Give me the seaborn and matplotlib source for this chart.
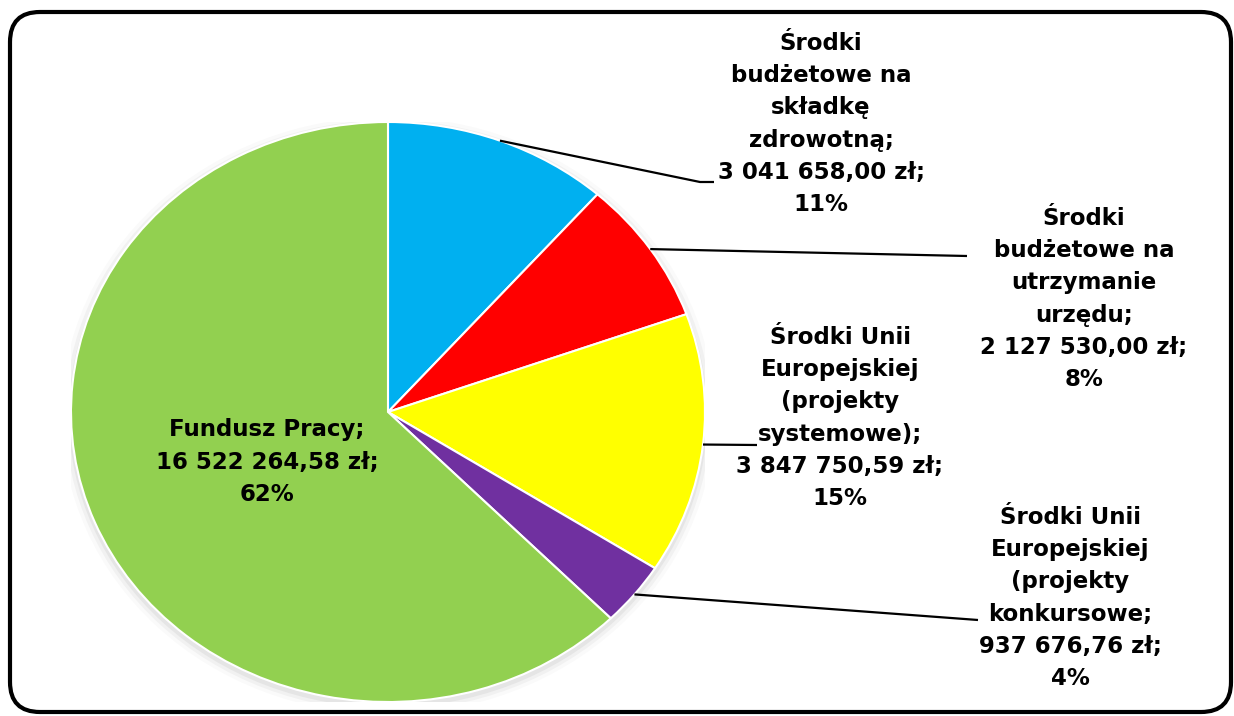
import numpy as np
import matplotlib
matplotlib.use("Agg")
import matplotlib.pyplot as plt
import seaborn as sns
from matplotlib.patches import FancyBboxPatch, Ellipse

# Data
names = ["Środki\nbudżetowe na\nskładkę\nzdrowotną",
         "Środki\nbudżetowe na\nutrzymanie\nurzędu",
         "Środki Unii\nEuropejskiej\n(projekty\nsystemowe)",
         "Środki Unii\nEuropejskiej\n(projekty\nkonkursowe",
         "Fundusz Pracy"]
values = [3041658.00, 2127530.00, 3847750.59, 937676.76, 16522264.58]
colors = ["#00B0F0", "#FF0000", "#FFFF00", "#7030A0", "#92D050"]

sns.set_theme(style="white")
plt.rcParams['font.family'] = ['DejaVu Sans']

W, H = 1234, 716
fig = plt.figure(figsize=(W / 100, H / 100), dpi=100)

# overlay axes in pixel coordinates for frame, labels and leader lines
ov = fig.add_axes([0, 0, 1, 1])
ov.set_xlim(0, W)
ov.set_ylim(H, 0)
ov.axis('off')
ov.patch.set_alpha(0)
ov.set_zorder(3)

# pie axes (slightly wider than tall, as in the original)
px0, px1, py0, py1 = 71, 705, 122, 702
pa = fig.add_axes([px0 / W, 1 - py1 / H, (px1 - px0) / W, (py1 - py0) / H])
pa.set_zorder(2)

# soft shadow
for k, a in [(1.03, 0.04), (1.018, 0.07), (1.007, 0.1)]:
    pa.add_patch(Ellipse((0.0, -0.012), 2 * k, 2 * k, color='gray', alpha=a, lw=0))

wedges, _ = pa.pie(values, colors=colors, startangle=90, counterclock=False,
                   radius=1.0, wedgeprops=dict(edgecolor='white', linewidth=1.5))
pa.set_aspect('auto')
pa.set_xlim(-1.0, 1.0)
pa.set_ylim(-1.0, 1.0)
pa.axis('off')

total = sum(values)

def fmt(v):
    return format(v, ',.2f').replace(',', ' ').replace('.', ',')

labels = [f"{n};\n{fmt(v)} zł;\n{round(v / total * 100)}%" for n, v in zip(names, values)]

# label placement (pixel centres) and leader line bends
label_pos = [(821, 124), (1084, 299), (840, 418), (1070, 598), (267, 462)]
leader_pts = [[(700, 182), (714, 182)],
              [(967, 256)],
              [(757, 445)],
              [(978, 620)],
              None]

def edge_point(theta):
    p = pa.transData.transform((np.cos(np.radians(theta)), np.sin(np.radians(theta))))
    return ov.transData.inverted().transform(p)

for w, lab, pos, pts in zip(wedges, labels, label_pos, leader_pts):
    mid = (w.theta1 + w.theta2) / 2
    if pts is not None:
        s = edge_point(mid)
        xs = [s[0]] + [p[0] for p in pts]
        ys = [s[1]] + [p[1] for p in pts]
        ov.plot(xs, ys, color='black', lw=1.6, solid_capstyle='butt')
    ov.text(pos[0], pos[1], lab, ha='center', va='center', fontsize=16.5,
            fontweight='bold', linespacing=1.52, color='black')

# rounded frame
frame = FancyBboxPatch((10, 12), 1221, 700, boxstyle="round,pad=0,rounding_size=30",
                       fill=False, edgecolor='black', linewidth=3)
ov.add_patch(frame)

fig.savefig('out.png', dpi=100)
